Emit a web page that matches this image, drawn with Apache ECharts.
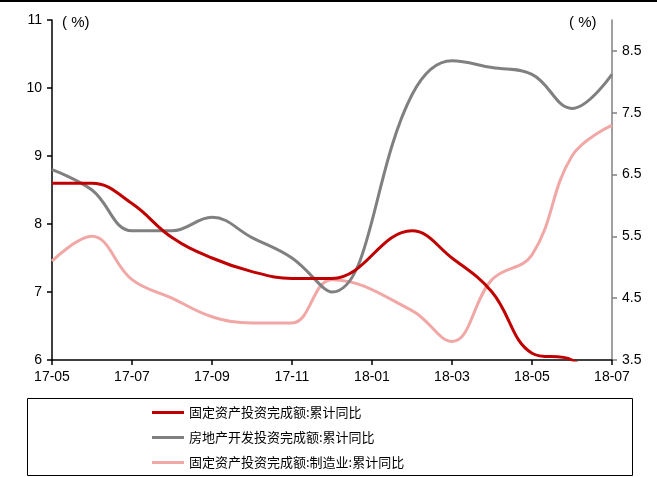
<!DOCTYPE html>
<html>
<head>
<meta charset="utf-8">
<script src="https://cdn.jsdelivr.net/npm/echarts@6/dist/echarts.min.js"></script>
<style>
  html, body { margin: 0; padding: 0; background: #fff; }
  #chart { width: 657px; height: 477px; }
</style>
</head>
<body>
<div id="chart"></div>
<script>
// Monthly categories (January has no separate release, so 18-01 is empty)
var months = ['17-05','17-06','17-07','17-08','17-09','17-10','17-11','17-12',
              '18-01','18-02','18-03','18-04','18-05','18-06','18-07'];

// Cumulative YoY growth, %
var fixedAsset    = [8.6, 8.6, 8.3, 7.8, 7.5, 7.3, 7.2, 7.2, null, 7.9, 7.5, 7.0, 6.1, 6.0, 5.5];
var realEstate    = [8.8, 8.5, 7.9, 7.9, 8.1, 7.8, 7.5, 7.0, null, 9.9, 10.4, 10.3, 10.2, 9.7, 10.2];
var manufacturing = [5.1, 5.5, 4.8, 4.5, 4.2, 4.1, 4.1, 4.8, null, 4.3, 3.8, 4.8, 5.2, 6.8, 7.3];

var leftTicks  = [6, 7, 8, 9, 10, 11];
var rightTicks = [3.5, 4.5, 5.5, 6.5, 7.5, 8.5];

var names = ['固定资产投资完成额:累计同比', '房地产开发投资完成额:累计同比', '固定资产投资完成额:制造业:累计同比'];

var chart = echarts.init(document.getElementById('chart'), null, { renderer: 'canvas' });
var axisFont = { fontFamily: 'Liberation Sans, Arial, sans-serif', fontSize: 14, color: '#000' };

chart.setOption({
  animation: false,
  backgroundColor: '#fff',
  grid: { left: 52, right: 45, top: 20, bottom: 117, containLabel: false },
  xAxis: {
    type: 'category',
    data: months,
    boundaryGap: false,
    axisLine: { lineStyle: { color: '#000', width: 1.5 } },
    axisTick: { show: true, interval: 1, length: 5, lineStyle: { color: '#000', width: 1.5 } },
    axisLabel: Object.assign({ interval: 1, margin: 10 }, axisFont),
    splitLine: { show: false }
  },
  yAxis: [
    {
      type: 'value',
      min: 6, max: 11, interval: 1,
      axisLine: { show: true, lineStyle: { color: '#000', width: 1.5 } },
      axisTick: { show: true, length: 5, lineStyle: { color: '#000', width: 1.5 } },
      axisLabel: Object.assign({ margin: 10, customValues: leftTicks }, axisFont),
      splitLine: { show: false }
    },
    {
      type: 'value',
      position: 'right',
      min: 3.5, max: 9,
      axisLine: { show: true, lineStyle: { color: '#808080', width: 1.5 } },
      axisTick: { show: true, length: 5, customValues: rightTicks, lineStyle: { color: '#808080', width: 1.5 } },
      axisLabel: Object.assign({ margin: 10, customValues: rightTicks,
        formatter: function (v) { return v.toFixed(1); } }, axisFont),
      splitLine: { show: false }
    }
  ],
  legend: {
    orient: 'vertical',
    left: 152,
    top: 405,
    padding: 0,
    height: 72,
    itemWidth: 32,
    itemHeight: 3,
    itemGap: 10,
    icon: 'rect',
    textStyle: { fontFamily: 'Noto Sans CJK SC', fontSize: 13, color: '#000', lineHeight: 15 },
    data: names
  },
  graphic: [
    { type: 'rect', shape: { x: 0, y: 0, width: 657, height: 2 }, style: { fill: '#000' }, silent: true },
    { type: 'rect', shape: { x: 27.5, y: 398.5, width: 605, height: 77 }, style: { fill: 'none', stroke: '#000', lineWidth: 1 }, silent: true },
    { type: 'text', left: 62, top: 15, style: { text: '( %)', fontFamily: 'Liberation Sans, Arial', fontSize: 15, fill: '#000' } },
    { type: 'text', left: 569, top: 15, style: { text: '( %)', fontFamily: 'Liberation Sans, Arial', fontSize: 15, fill: '#000' } }
  ],
  series: [
    {
      name: names[0], type: 'line', yAxisIndex: 0, data: fixedAsset,
      smooth: 0.4, connectNulls: true, showSymbol: false, clip: true,
      lineStyle: { color: '#C00000', width: 3 }, itemStyle: { color: '#C00000' }, z: 4
    },
    {
      name: names[1], type: 'line', yAxisIndex: 0, data: realEstate,
      smooth: 0.4, connectNulls: true, showSymbol: false, clip: true,
      lineStyle: { color: '#808080', width: 3 }, itemStyle: { color: '#808080' }, z: 3
    },
    {
      name: names[2], type: 'line', yAxisIndex: 1, data: manufacturing,
      smooth: 0.4, connectNulls: true, showSymbol: false, clip: true,
      lineStyle: { color: '#F2A7A7', width: 3 }, itemStyle: { color: '#F2A7A7' }, z: 2
    }
  ]
});
</script>
</body>
</html>
